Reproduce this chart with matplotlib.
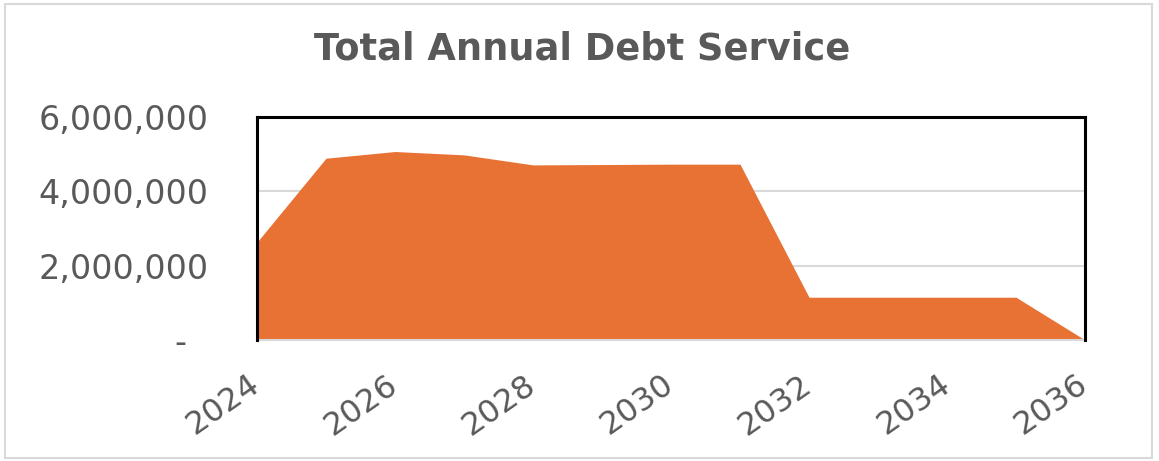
import matplotlib
matplotlib.use("Agg")
import matplotlib.pyplot as plt
from matplotlib.ticker import FuncFormatter
from matplotlib.patches import Rectangle

# annual debt service by year
years = [2024, 2025, 2026, 2027, 2028, 2029, 2030, 2031, 2032, 2033, 2034, 2035, 2036]
debt_service = [2630000, 4890000, 5070000, 4980000, 4710000, 4720000, 4730000,
                4730000, 1150000, 1150000, 1150000, 1150000, 0]
year_ticks = [2024, 2026, 2028, 2030, 2032, 2034, 2036]
y_ticks = [0, 2000000, 4000000, 6000000]

orange = "#E87234"
grey_text = "#595959"

plt.rcParams["font.family"] = ["DejaVu Sans"]

fig = plt.figure(figsize=(11.59, 4.61), dpi=100)
ax = fig.add_axes([0.2217, 0.2625, 0.7145, 0.4838])

ax.fill_between(years, debt_service, 0, color=orange, linewidth=0, zorder=2)

ax.set_xlim(years[0], years[-1])
ax.set_ylim(0, 6000000)
ax.set_yticks(y_ticks)
ax.set_xticks(year_ticks)

def money(v, pos):
    if v == 0:
        return "-  "
    return "{:,.0f}".format(v)

ax.yaxis.set_major_formatter(FuncFormatter(money))
ax.tick_params(axis="y", length=0, pad=35, labelsize=24, labelcolor=grey_text)
ax.tick_params(axis="x", length=0, pad=30, labelsize=23, labelcolor=grey_text)
for lbl in ax.get_xticklabels():
    lbl.set_rotation(35)
    lbl.set_ha("right")
    lbl.set_va("center")
    lbl.set_rotation_mode("anchor")

ax.grid(axis="y", color="#D9D9D9", linewidth=1.5, zorder=1)
ax.set_axisbelow(True)

for side in ["left", "top", "right"]:
    ax.spines[side].set_color("black")
    ax.spines[side].set_linewidth(2.2)
    ax.spines[side].set_zorder(3)
ax.spines["bottom"].set_color("#D9D9D9")
ax.spines["bottom"].set_linewidth(1.5)

fig.text(0.502, 0.893, "Total Annual Debt Service", ha="center", va="center",
         fontsize=26.5, fontweight="bold", color=grey_text)

# thin frame around the whole chart
fig.patches.append(Rectangle((0.004, 0.006), 0.99, 0.985, transform=fig.transFigure,
                             fill=False, edgecolor="#D9D9D9", linewidth=1.5))

fig.savefig("out.png", dpi=100)
